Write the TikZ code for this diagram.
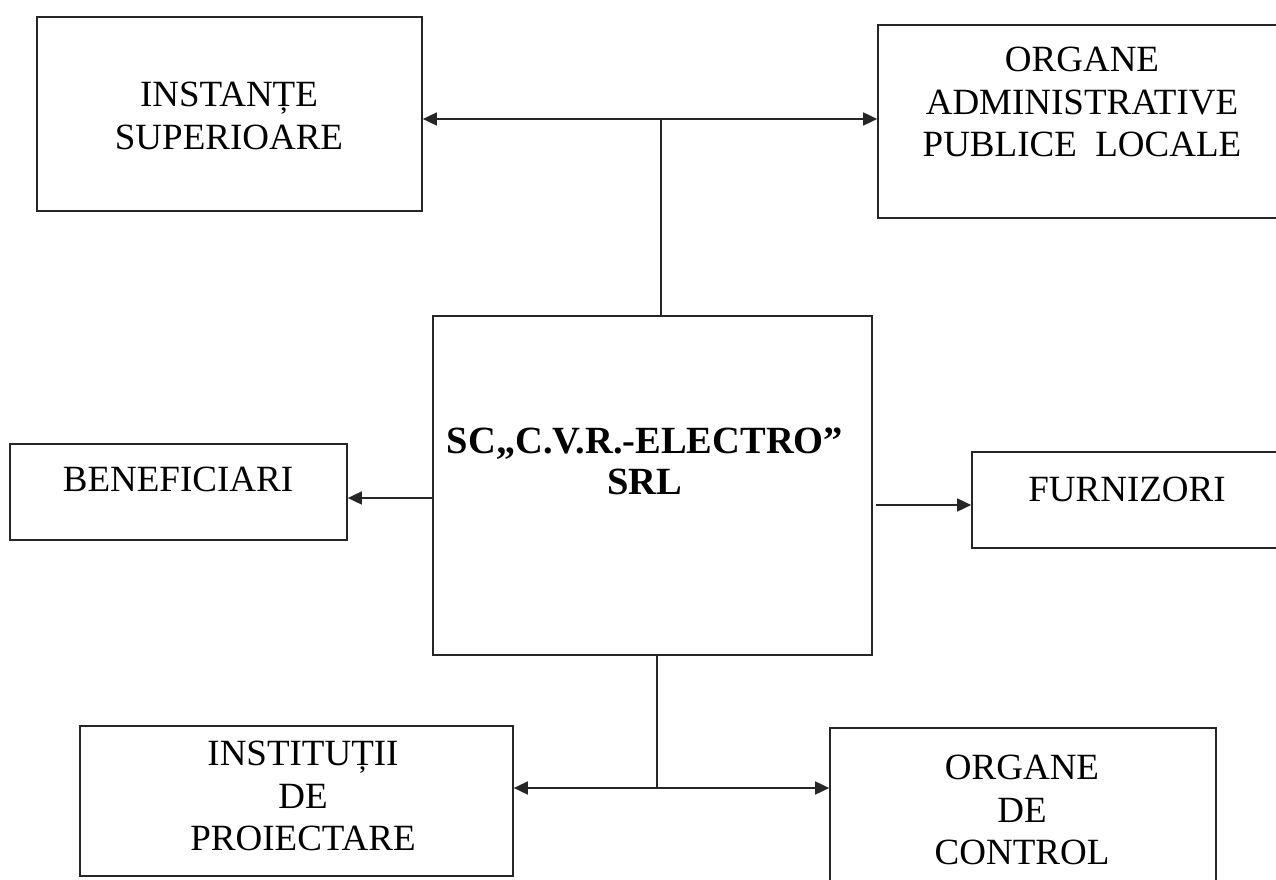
\documentclass[tikz,border=0pt]{standalone}
\usepackage{fontspec}
\setmainfont{Liberation Serif}
\usetikzlibrary{arrows.meta}
\tikzset{
  box/.style={draw=black!85, line width=1.7pt, inner sep=0pt, fill=none},
  lbl/.style={align=center, font=\fontsize{37}{42.5}\selectfont, inner sep=0pt},
  conn/.style={draw=black!85, line width=1.7pt},
  arr/.style={conn, -{Triangle[length=14pt,width=13pt]}},
  barr/.style={conn, {Triangle[length=14pt,width=13pt]}-{Triangle[length=14pt,width=13pt]}}
}
\begin{document}
\begin{tikzpicture}[x=1pt,y=-1pt]
\useasboundingbox[fill=white] (0,0) rectangle (1276,880);
% boxes
\node[box, minimum width=385pt, minimum height=194pt] (inst) at (229.5,114) {};
\node[box, minimum width=412pt, minimum height=193pt] (adm) at (1084,121.5) {};
\node[box, minimum width=439pt, minimum height=339pt] (cen) at (652.5,485.5) {};
\node[box, minimum width=337pt, minimum height=96pt] (ben) at (178.5,492) {};
\node[box, minimum width=318pt, minimum height=96pt] (furn) at (1131,500) {};
\node[box, minimum width=433pt, minimum height=150pt] (proi) at (296.5,801) {};
\node[box, minimum width=386pt, minimum height=164pt] (ctrl) at (1023,810) {};
% texts
\node[lbl] (inst-t) at (229,116) {INSTANȚE\\SUPERIOARE};
\node[lbl] (adm-t) at (1082,102) {ORGANE\\ADMINISTRATIVE\\PUBLICE\ \ LOCALE};
\node[lbl, font=\fontsize{38.5}{41}\selectfont\bfseries] (cen-t) at (645,461) {SC„C.V.R.-ELECTRO”\\SRL};
\node[lbl] (ben-t) at (178,479) {BENEFICIARI};
\node[lbl] (furn-t) at (1127,489) {FURNIZORI};
\node[lbl] (proi-t) at (303,796) {INSTITUȚII\\DE\\PROIECTARE};
\node[lbl] (ctrl-t) at (1022,810) {ORGANE\\DE\\CONTROL};
% junctions
\coordinate (jt) at (661,119);
\coordinate (jb) at (657,788);
\coordinate (yl) at (0,498);
\coordinate (yr) at (0,505);
% connectors
\draw[barr] (jt -| inst.east) -- (jt -| adm.west);
\draw[conn] (jt |- cen.north) -- (jt);
\draw[barr] (jb -| proi.east) -- (jb -| ctrl.west);
\draw[conn] (jb |- cen.south) -- (jb);
\draw[arr] (yl -| cen.west) -- (yl -| ben.east);
\draw[arr] ([xshift=3pt]yr -| cen.east) -- (yr -| furn.west);
\end{tikzpicture}
\end{document}
